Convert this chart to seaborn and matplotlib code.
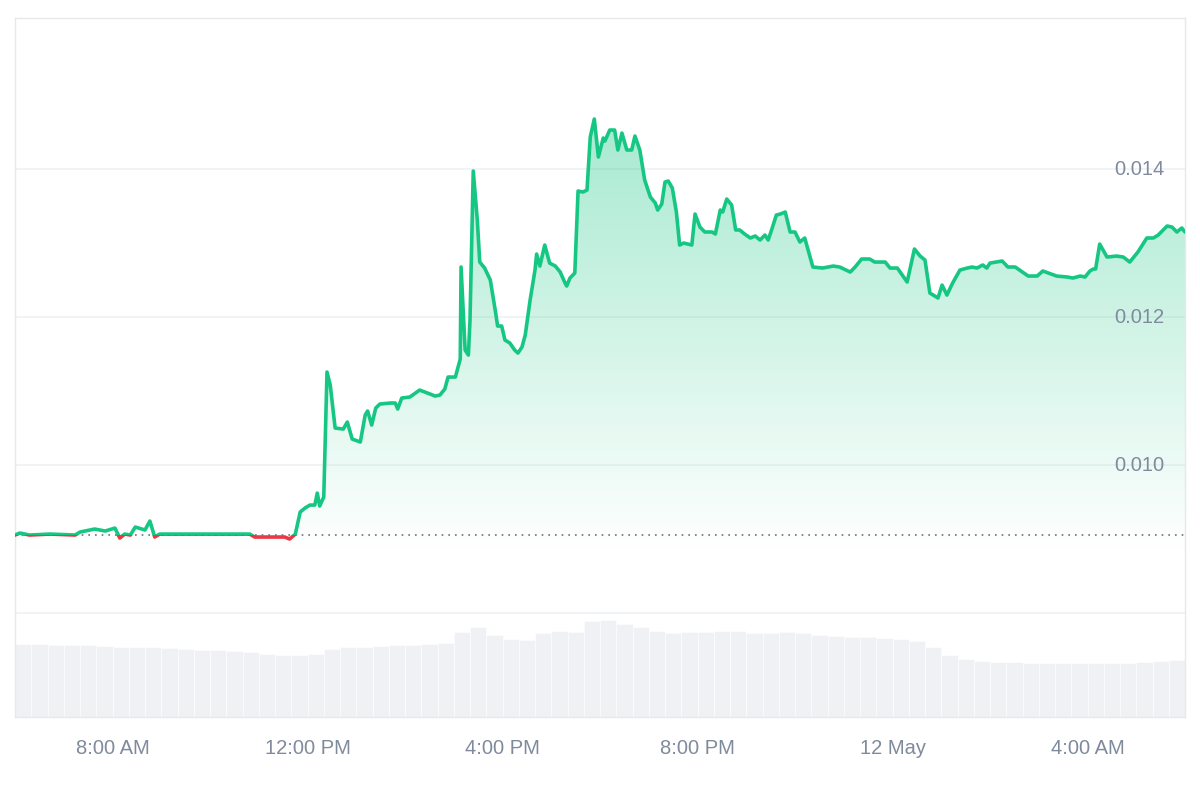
import numpy as np
import pandas as pd
import matplotlib
matplotlib.use("Agg")
import matplotlib.pyplot as plt
from matplotlib.patches import Rectangle, Polygon
import seaborn as sns

# minutes after 06:00 (11 May)
minutes = [0,6,18,43,74,80,98,111,123,129,135,142,148,160,166,172,178,203,228,289,295,314,332,338,345,351,357,363,369,372,375,380,384,388,394,404,409,415,425,431,434,439,444,449,462,468,471,476,486,498,511,517,523,529,533,542,548,549,554,558,560,564,569,572,578,585,591,594,599,603,609,615,619,624,628,634,640,642,646,652,658,665,671,677,679,683,689,693,699,704,708,713,718,724,726,732,738,742,747,753,759,763,769,775,782,788,791,796,800,804,809,814,818,823,828,833,837,843,849,858,862,868,871,876,882,887,892,898,905,911,917,923,927,932,937,942,948,954,960,966,972,982,994,1007,1015,1028,1034,1042,1052,1058,1071,1077,1086,1098,1107,1114,1120,1126,1136,1141,1147,1154,1163,1172,1178,1184,1191,1196,1200,1215,1222,1231,1247,1258,1265,1282,1295,1302,1311,1317,1323,1327,1330,1335,1344,1356,1364,1372,1382,1393,1401,1407,1418,1424,1430,1436,1440]
# price in units of 1e-5 USD
price_e5 = [905.4,908.1,905.4,906.7,905.4,909.4,913.5,910.8,914.8,901.3,906.7,905.4,916.2,912.2,924.3,902.7,906.7,906.7,906.7,906.7,902.7,902.7,902.7,900.0,906.7,936.5,941.9,945.9,945.9,962.1,944.6,956.7,1125.7,1108.1,1050,1048.6,1058.1,1035.1,1031.1,1067.6,1073,1054,1077,1082.4,1083.8,1083.8,1075.7,1090.5,1091.9,1101.3,1095.9,1093.2,1094.6,1102.7,1118.9,1118.9,1143.2,1267.6,1155.4,1148.6,1196,1397.3,1331.1,1274.3,1266.2,1250,1209.5,1187.8,1187.8,1168.9,1164.9,1155.4,1151.3,1159.5,1175.7,1223,1263.5,1285.1,1268.9,1297.3,1272.9,1268.9,1260.8,1246,1241.9,1252.6,1259.5,1370.3,1368.9,1371.6,1443.2,1467.6,1416.2,1441.9,1437.8,1452.7,1452.7,1425.7,1448.6,1425.7,1425.7,1444.6,1425.7,1385.1,1362.2,1354.1,1344.6,1352.7,1382.4,1383.8,1374.3,1341.9,1297.3,1300,1298.6,1297.3,1339.2,1321.6,1314.9,1314.9,1312.2,1344.6,1341.9,1359.5,1351.4,1317.6,1317.6,1312.2,1306.8,1309.5,1304.1,1310.8,1304.1,1320.3,1337.8,1339.2,1341.9,1314.9,1314.9,1301.4,1306.8,1267.6,1266.2,1268.9,1267.6,1260.8,1267.6,1278.4,1278.4,1274.3,1274.3,1266.2,1266.2,1247.3,1291.9,1282.4,1277,1232.4,1225.7,1243.2,1229.7,1246,1263.5,1266.2,1267.6,1266.2,1270.3,1266.2,1272.9,1275.7,1267.6,1267.6,1255.4,1255.4,1262.2,1255.4,1254.1,1252.7,1255.4,1254.1,1262.2,1264.9,1264.9,1298.6,1281.1,1282.4,1281.1,1274.3,1287.8,1306.8,1306.8,1310.8,1323,1321.6,1314.9,1320.3,1314.9]
# volume (relative units), one bar per 20 minutes
volume = [73,73,72,72,72,71,70,70,70,69,68,67,67,66,65,63,62,62,63,68,70,70,71,72,72,73,74,85,90,82,78,77,84,86,85,96,97,93,90,86,84,85,85,86,86,84,84,85,84,82,81,80,80,79,78,76,70,62,58,56,55,55,54,54,54,54,54,54,54,55,56,57]
tick_pos = [120,360,600,840,1080,1320]
tick_labels = ["8:00 AM","12:00 PM","4:00 PM","8:00 PM","12 May","4:00 AM"]
ytick_vals = [0.010,0.012,0.014]

GREEN = "#16c784"; RED = "#ea3943"; GREY = "#808a9d"
df = pd.DataFrame({"t": minutes, "p": np.array(price_e5) * 1e-5})
base = df["p"].iloc[0]

sns.set_theme(style="white")
plt.rcParams['font.family'] = ['Liberation Sans', 'DejaVu Sans']
fig = plt.figure(figsize=(12, 8), dpi=100)
ax = fig.add_axes([15/1200, 1-717/800, 1170/1200, 699/800])
ymin, ymax = 0.006595, 0.016041
ax.set_xlim(0, 1440); ax.set_ylim(ymin, ymax)

# volume
ax2 = ax.twinx()
vt = np.arange(len(volume)) * 20 + 10
ax2.bar(vt, volume, width=20, color="#f0f1f4", edgecolor="white", linewidth=0.4)
ax2.set_ylim(0, 699); ax2.axis("off")
ax.set_zorder(ax2.get_zorder() + 1); ax.patch.set_visible(False)

# gridlines
for g in [0.008, 0.010, 0.012, 0.014]:
    ax.axhline(g, color="#eff2f5", lw=1.2, zorder=0)

# gradient fill
grad = np.linspace(0, 1, 256).reshape(-1, 1)
cmap = matplotlib.colors.LinearSegmentedColormap.from_list("g", [(0.086,0.78,0.52,0.0),(0.086,0.78,0.52,0.38)])
im = ax.imshow(grad, extent=[0, 1440, 0.0088, 0.0147], origin="lower", aspect="auto", cmap=cmap, zorder=1)
poly = Polygon(np.vstack([[0, 0.0088], df[["t","p"]].values, [1440, 0.0088]]), closed=True, transform=ax.transData, facecolor="none", edgecolor="none")
ax.add_patch(poly)
im.set_clip_path(poly)

ax.axhline(base, color="#6b7280", lw=1.2, ls=(0, (1, 3)), zorder=2)

sns.lineplot(data=df, x="t", y="p", ax=ax, color=GREEN, lw=2.6, zorder=3)
sns.lineplot(data=df, x="t", y="p", ax=ax, color=RED, lw=2.6, zorder=4)
ln_g, ln_r = ax.lines[-2], ax.lines[-1]
rg = Rectangle((0, base), 1440, 1, transform=ax.transData)
rr = Rectangle((0, 0), 1440, base, transform=ax.transData)
ln_g.set_clip_path(rg); ln_r.set_clip_path(rr)

ax.set_xticks(tick_pos); ax.set_xticklabels(tick_labels)
ax.tick_params(axis="x", length=0, labelsize=14.5, colors=GREY, pad=16)
ax.set_yticks([])
for v in ytick_vals:
    ax.text(1415, v, f"{v:.3f}", ha="right", va="center", fontsize=14.5, color=GREY, zorder=5)
ax.set_xlabel(""); ax.set_ylabel("")
for s in ax.spines.values():
    s.set_color("#e6e8ec"); s.set_linewidth(1)
fig.savefig("out.png", dpi=100, facecolor="white")
